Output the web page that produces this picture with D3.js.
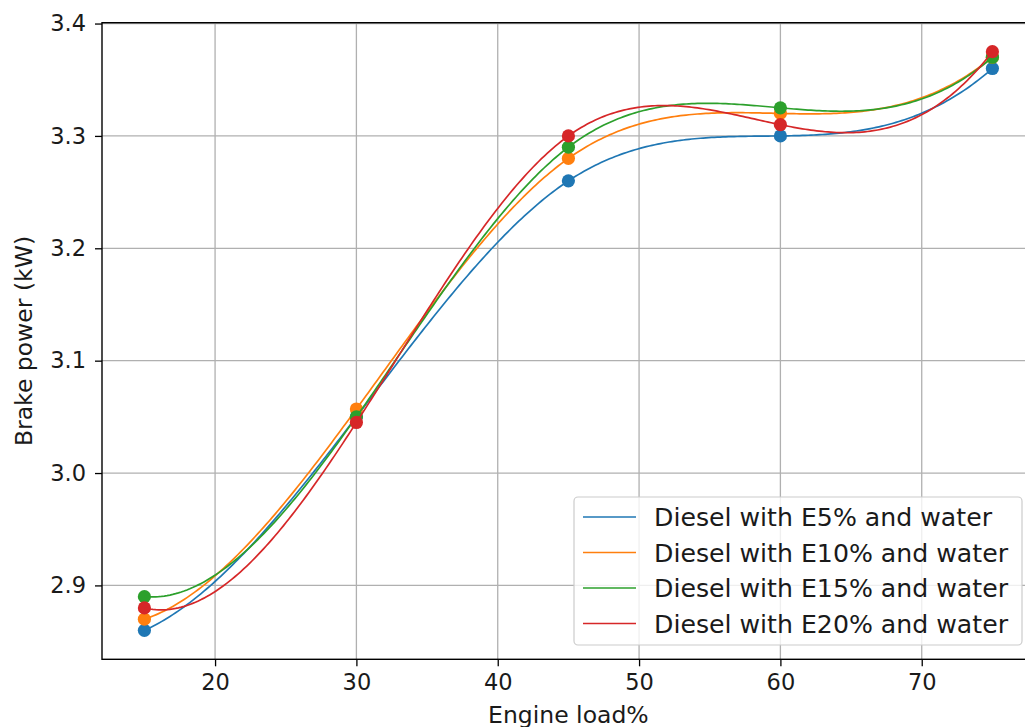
<!DOCTYPE html>
<html>
<head>
<meta charset="utf-8">
<script src="https://cdn.jsdelivr.net/npm/d3@7"></script>
<style>
  html, body { margin: 0; padding: 0; background: #fff; }
  svg { display: block; font-family: "DejaVu Sans", sans-serif; }
</style>
</head>
<body>
<svg id="chart"></svg>
<script>
const width = 1025;
const height = 727;

// data
const loads = [15, 30, 45, 60, 75];
const e5 = [2.86, 3.05, 3.26, 3.30, 3.36];
const e10 = [2.87, 3.057, 3.28, 3.32, 3.37];
const e15 = [2.89, 3.05, 3.29, 3.325, 3.37];
const e20 = [2.88, 3.045, 3.30, 3.31, 3.375];
const seriesNames = ["Diesel with E5% and water", "Diesel with E10% and water", "Diesel with E15% and water", "Diesel with E20% and water"];
const xTicks = [20, 30, 40, 50, 60, 70];
const yTicks = [2.9, 3.0, 3.1, 3.2, 3.3, 3.4];

const colours = ["#1f77b4", "#ff7f0e", "#2ca02c", "#d62728"];
const series = [e5, e10, e15, e20].map((v, i) => ({ name: seriesNames[i], values: v, colour: colours[i] }));

const margin = { left: 102, top: 22.7, right: 1034.8, bottom: 659.3 };

const svg = d3.select("#chart")
    .attr("width", width)
    .attr("height", height)
    .attr("viewBox", `0 0 ${width} ${height}`);

// matplotlib style 5% padding
const xMin = d3.min(loads), xMax = d3.max(loads);
const yMin = d3.min(series, s => d3.min(s.values)), yMax = d3.max(series, s => d3.max(s.values));
const xPad = (xMax - xMin) * 0.05, yPad = (yMax - yMin) * 0.05;

const x = d3.scaleLinear().domain([xMin - xPad, xMax + xPad]).range([margin.left, margin.right]);
const y = d3.scaleLinear().domain([yMin - yPad, yMax + yPad]).range([margin.bottom, margin.top]);

// not-a-knot cubic spline (like scipy make_interp_spline k=3)
function spline(xs, ys) {
    const n = xs.length;
    const h = d3.range(n - 1).map(i => xs[i + 1] - xs[i]);
    const A = d3.range(n).map(() => new Array(n).fill(0));
    const b = new Array(n).fill(0);
    A[0][0] = h[1]; A[0][1] = -(h[0] + h[1]); A[0][2] = h[0];
    for (let i = 1; i < n - 1; i++) {
        A[i][i - 1] = h[i - 1];
        A[i][i] = 2 * (h[i - 1] + h[i]);
        A[i][i + 1] = h[i];
        b[i] = 6 * ((ys[i + 1] - ys[i]) / h[i] - (ys[i] - ys[i - 1]) / h[i - 1]);
    }
    A[n - 1][n - 3] = h[n - 2]; A[n - 1][n - 2] = -(h[n - 3] + h[n - 2]); A[n - 1][n - 1] = h[n - 3];
    // gaussian elimination
    for (let c = 0; c < n; c++) {
        let p = c;
        for (let r = c + 1; r < n; r++) if (Math.abs(A[r][c]) > Math.abs(A[p][c])) p = r;
        [A[c], A[p]] = [A[p], A[c]]; [b[c], b[p]] = [b[p], b[c]];
        for (let r = c + 1; r < n; r++) {
            const f = A[r][c] / A[c][c];
            for (let k = c; k < n; k++) A[r][k] -= f * A[c][k];
            b[r] -= f * b[c];
        }
    }
    const M = new Array(n).fill(0);
    for (let r = n - 1; r >= 0; r--) {
        let s = b[r];
        for (let k = r + 1; k < n; k++) s -= A[r][k] * M[k];
        M[r] = s / A[r][r];
    }
    return t => {
        let i = Math.min(n - 2, Math.max(0, d3.bisectRight(xs, t) - 1));
        const hi = h[i], a = xs[i + 1] - t, bb = t - xs[i];
        return M[i] * a * a * a / (6 * hi) + M[i + 1] * bb * bb * bb / (6 * hi)
            + (ys[i] / hi - M[i] * hi / 6) * a + (ys[i + 1] / hi - M[i + 1] * hi / 6) * bb;
    };
}

const samples = d3.range(300).map(i => xMin + (xMax - xMin) * i / 299);

// grid
const grid = svg.append("g").attr("stroke", "#b0b0b0").attr("stroke-width", 1.3);
grid.selectAll(".gx").data(xTicks).enter().append("line")
    .attr("x1", d => x(d)).attr("x2", d => x(d))
    .attr("y1", margin.top).attr("y2", margin.bottom);
grid.selectAll(".gy").data(yTicks).enter().append("line")
    .attr("x1", margin.left).attr("x2", margin.right)
    .attr("y1", d => y(d)).attr("y2", d => y(d));

// series: markers then smooth line
const line = d3.line().x(d => x(d[0])).y(d => y(d[1]));
series.forEach(s => {
    const g = svg.append("g");
    g.selectAll("circle").data(loads).enter().append("circle")
        .attr("cx", d => x(d))
        .attr("cy", (d, i) => y(s.values[i]))
        .attr("r", 6.6)
        .attr("fill", s.colour);
    const f = spline(loads, s.values);
    g.append("path")
        .datum(samples.map(t => [t, f(t)]))
        .attr("fill", "none")
        .attr("stroke", s.colour)
        .attr("stroke-width", 1.7)
        .attr("d", line);
});

// axes
const xAxis = svg.append("g")
    .attr("transform", `translate(0,${margin.bottom})`)
    .call(d3.axisBottom(x).tickValues(xTicks).tickSize(7).tickPadding(8).tickFormat(d3.format("d")));
const yAxis = svg.append("g")
    .attr("transform", `translate(${margin.left},0)`)
    .call(d3.axisLeft(y).tickValues(yTicks).tickSize(7).tickPadding(9).tickFormat(d3.format(".1f")));
[xAxis, yAxis].forEach(a => {
    a.select(".domain").remove();
    a.selectAll(".tick line").attr("stroke", "#000").attr("stroke-width", 1.3);
    a.selectAll(".tick text").attr("font-size", 22.5).attr("fill", "#1a1a1a")
        .attr("font-family", "DejaVu Sans, sans-serif");
});

// spines
svg.append("rect")
    .attr("x", margin.left).attr("y", margin.top)
    .attr("width", margin.right - margin.left).attr("height", margin.bottom - margin.top)
    .attr("fill", "none").attr("stroke", "#000").attr("stroke-width", 1.4);

// axis labels
svg.append("text")
    .attr("x", (margin.left + margin.right) / 2)
    .attr("y", 723)
    .attr("text-anchor", "middle")
    .attr("font-size", 23.5)
    .attr("fill", "#1a1a1a")
    .text("Engine load%");
svg.append("text")
    .attr("transform", `translate(32,${(margin.top + margin.bottom) / 2}) rotate(-90)`)
    .attr("text-anchor", "middle")
    .attr("font-size", 23.5)
    .attr("fill", "#1a1a1a")
    .text("Brake power (kW)");

// legend
const legend = svg.append("g");
legend.append("rect")
    .attr("x", 574).attr("y", 497)
    .attr("width", 448).attr("height", 148)
    .attr("rx", 4)
    .attr("fill", "#fff").attr("fill-opacity", 0.8)
    .attr("stroke", "#cccccc").attr("stroke-width", 1.2);
const rows = legend.selectAll(".row").data(series).enter().append("g")
    .attr("transform", (d, i) => `translate(0,${517 + i * 35.5})`);
rows.append("line")
    .attr("x1", 583).attr("x2", 636)
    .attr("stroke", d => d.colour).attr("stroke-width", 1.7);
rows.append("text")
    .attr("x", 654)
    .attr("dy", "0.36em")
    .attr("font-size", 25.2)
    .attr("fill", "#1a1a1a")
    .text(d => d.name);
</script>
</body>
</html>
